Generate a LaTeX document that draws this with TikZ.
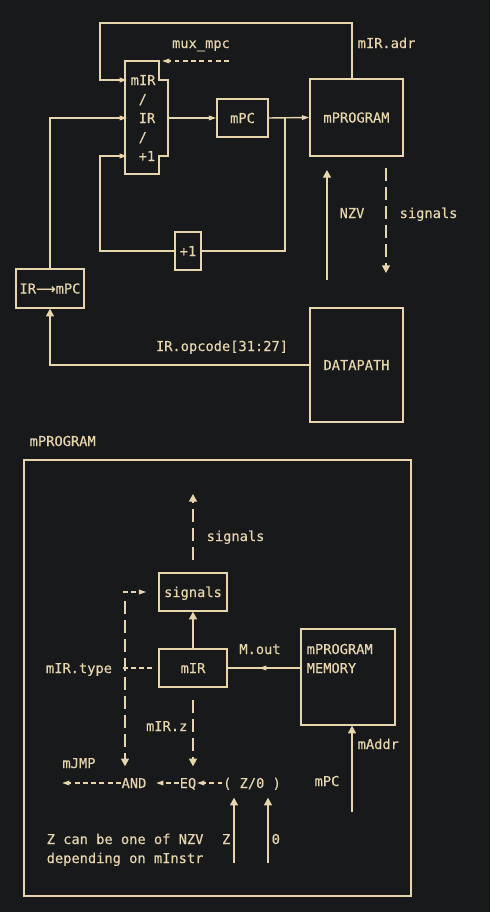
\documentclass[tikz,border=0pt]{standalone}
\usepackage{fontspec}
\setmonofont[FakeBold=0.35]{DejaVu Sans Mono}
\newfontfamily\arrowfont[FakeBold=0.35]{DejaVu Sans}
\usetikzlibrary{arrows.meta,calc,decorations.markings}
\definecolor{bgc}{HTML}{17191B}
\definecolor{ink}{HTML}{E6D5AD}

\begin{document}
\begin{tikzpicture}[
	x=0.02cm, y=-0.02cm, color=ink, line width=0.8pt,
	every node/.style={font=\ttfamily\fontsize{7.8}{9}\selectfont, inner sep=0pt, text height=5.7pt, text depth=0pt},
	box/.style={draw},
	ha/.style={-{Triangle[length=4.2pt,width=2.6pt]}},
	va/.style={-{Triangle[length=4.4pt,width=4.6pt]}},
	hd/.style={dash pattern=on 2.8pt off 1.9pt},
	vd/.style={dash pattern=on 7.4pt off 3.4pt},
	midarr/.style={postaction={decorate}, decoration={markings, mark=at position 0.57 with {\arrow{Triangle[length=4.2pt,width=2.6pt]}}}}
	]
	
	\fill[bgc] (0,0) rectangle (490,912);
	
	% upper part: mux, mPC, mPROGRAM, DATAPATH
	\draw (125,61) -- (159,61) -- (159,80) -- (168,80) -- (168,156) -- (159,156) -- (159,174) -- (125,174) -- cycle;
	\node[anchor=west] (mi1) at (130,80) {mIR};
	\node[anchor=west] (mi2) at (138,99) {/};
	\node[anchor=west] (mi3) at (138,118) {IR};
	\node[anchor=west] (mi4) at (138,137) {/};
	\node[anchor=west] (mi5) at (138,156) {+1};
	\coordinate (inA) at (127,80);
	\coordinate (inB) at (127,118);
	\coordinate (inC) at (127,156);
	\coordinate (muxout) at (168,118);
	\coordinate (muxtop) at (162,61);
	\coordinate (muxsel) at (229,61);
	\coordinate (split) at (285,118);
	
	\node[box, minimum width=1.02cm, minimum height=0.76cm] (mpc) at (242.5,118) {mPC};
	\node[box, minimum width=1.86cm, minimum height=1.54cm] (mprog) at (356.5,117.5) {mPROGRAM};
	\node[box, minimum width=0.52cm, minimum height=0.76cm] (inc) at (188,251) {+1};
	\node[box, minimum width=1.36cm, minimum height=0.78cm] (irmpc) at (50,288.5) {IR{\arrowfont ⟶}mPC};
	\node[box, minimum width=1.86cm, minimum height=2.28cm] (dpath) at (356.5,365) {DATAPATH};
	
	\node (muxlbl) at (201,43) {mux\_mpc};
	\node[anchor=west] (adrlbl) at (357,43) {mIR.adr};
	\node (nzvlbl) at (352,213) {NZV};
	\node[anchor=west] (siglbl) at (399,213) {signals};
	\node (oplbl) at (222,346) {IR.opcode[31:27]};
	
	\coordinate (nzvbot) at (327,280);
	\coordinate (nzvtop) at (327,170);
	\coordinate (sigtop) at (386,168);
	\coordinate (sigbot) at (386,273);
	
	\draw[ha] ($(mprog.north)+(-4.5,0)$) |- (100,23) |- (inA);
	\draw[hd, ha] (muxsel) -- (muxtop);
	\draw[ha] (irmpc.north) |- (inB);
	\draw[ha] (muxout) -- (mpc.west);
	\draw[ha] (mpc.east) -- (mprog.west);
	\draw (split) |- (inc.east);
	\draw[ha] (inc.west) -| (100,156) -- (inC);
	\draw[va] (dpath.west) -| (irmpc.south);
	\draw[va] (nzvbot) -- (nzvtop);
	\draw[vd, va] (sigtop) -- (sigbot);
	
	% lower part: inside mPROGRAM
	\node[anchor=west] (mplbl) at (29,441) {mPROGRAM};
	\node[box, minimum width=7.74cm, minimum height=8.72cm] (frame) at (217.5,678) {};
	
	\node[anchor=west] (sigl2) at (206,536) {signals};
	\node[box, minimum width=1.36cm, minimum height=0.76cm] (sigbox) at (193,592) {signals};
	\node[box, minimum width=1.36cm, minimum height=0.76cm] (mir) at (193,668) {mIR};
	\node[box, minimum width=1.88cm, minimum height=1.92cm] (mem) at (348,677) {};
	\node[anchor=west] (memA) at (306,649) {mPROGRAM};
	\node[anchor=west] (memB) at (306,668) {MEMORY};
	\node (moutlbl) at (260,649) {M.out};
	\node[anchor=west] (addrlbl) at (357,744) {mAddr};
	\node (mpclbl) at (327,781) {mPC};
	\node (typelbl) at (79,668) {mIR.type};
	\node[anchor=east] (zlbl) at (188,726) {mIR.z};
	\node (jmplbl) at (79,763) {mJMP};
	\node (and) at (134,783) {AND};
	\node (eq) at (188,783) {EQ};
	\node (zsel) at (252,783) {( Z/0 )};
	\node[anchor=east] (zl) at (231,839) {Z};
	\node[anchor=west] (ol) at (271,839) {0};
	\node[anchor=west] (note1) at (46,839) {Z can be one of NZV};
	\node[anchor=west] (note2) at (46,858) {depending on mInstr};
	
	\coordinate (sigfrom) at (193,560);
	\coordinate (sigout) at (193,494);
	\coordinate (maddr) at (352,812);
	\coordinate (typeend) at (123,668);
	\coordinate (jmpup) at (123,592);
	\coordinate (jmptop) at (125,601);
	\coordinate (jmpout) at (62,783);
	\coordinate (zsrc) at (234,863);
	\coordinate (osrc) at (268,863);
	
	\draw[vd, va] (sigfrom) -- (sigout);
	\draw[va] (mir.north) -- (sigbox.south);
	\draw[midarr] (mir.east -| mem.west) -- (mir.east);
	\draw[va] (maddr) -- (maddr |- mem.south);
	\draw[hd, shorten <=0.12cm] (mir.west) -- (typeend);
	\draw[hd, ha, shorten >=0.24cm] (jmpup) -- (sigbox.west);
	\draw[vd, va, shorten >=0.22cm] (jmptop) -- (jmptop |- and.north);
	\draw[vd, va, shorten <=0.24cm, shorten >=0.22cm] (mir.south) -- (mir.south |- eq.north);
	\draw[hd, ha] (and.west) -- (jmpout);
	\draw[hd, ha, shorten >=0.18cm] (eq.west) -- (and.east);
	\draw[hd, ha] (zsel.west) -- (eq.east);
	\draw[va, shorten >=0.18cm] (zsrc) -- (zsrc |- zsel.south);
	\draw[va, shorten >=0.18cm] (osrc) -- (osrc |- zsel.south);
	
\end{tikzpicture}
\end{document}
